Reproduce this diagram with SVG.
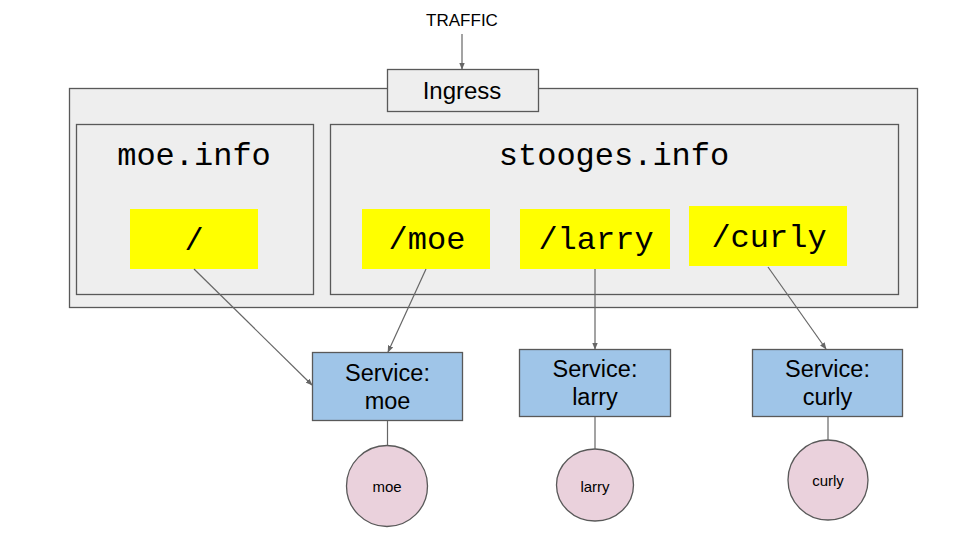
<svg xmlns="http://www.w3.org/2000/svg" width="960" height="540" viewBox="0 0 960 540">
<style>
.box{fill:#eeeeee;stroke:#595959;stroke-width:1.3}
.path{fill:#ffff00;stroke:none}
.svc{fill:#9fc5e8;stroke:#595959;stroke-width:1.3}
.pod{fill:#ead1dc;stroke:#595959;stroke-width:1.3}
.mono{font-family:"Liberation Mono","Courier New",monospace;font-size:32px;fill:#000;text-anchor:middle}
.sans{font-family:"Liberation Sans",Arial,sans-serif;fill:#000;text-anchor:middle}
.conn{stroke:#666666;stroke-width:1.2;fill:none}
</style>
<defs>
<marker id="ah" viewBox="0 0 10 10" refX="9" refY="5" markerWidth="7" markerHeight="7" markerUnits="userSpaceOnUse" orient="auto">
<path d="M0,1 L10,5 L0,9 z" fill="#666666"/>
</marker>
</defs>
<rect width="960" height="540" fill="#ffffff"/>
<g id="cluster">
<rect class="box" x="69.5" y="88.5" width="848" height="219"/>
</g>
<g id="traffic"><text class="sans" x="462" y="26" font-size="17">TRAFFIC</text></g>
<g id="ingress">
<rect class="box" x="387.5" y="69.5" width="151" height="42"/>
<text class="sans" x="462" y="99" font-size="24">Ingress</text>
</g>
<g id="moe-info">
<rect class="box" x="76.5" y="124.5" width="237" height="170"/>
<text class="mono" x="194" y="165">moe.info</text>
</g>
<g id="stooges-info">
<rect class="box" x="330.5" y="124.5" width="568" height="170"/>
<text class="mono" x="614" y="165">stooges.info</text>
</g>
<g id="path-root">
<rect class="path" x="130" y="209" width="128" height="60"/>
<text class="mono" x="194" y="250">/</text>
</g>
<g id="path-moe">
<rect class="path" x="362" y="209" width="128" height="60"/>
<text class="mono" x="427" y="249">/moe</text>
</g>
<g id="path-larry">
<rect class="path" x="520" y="209" width="150" height="60"/>
<text class="mono" x="596" y="249">/larry</text>
</g>
<g id="path-curly">
<rect class="path" x="689" y="206" width="158" height="60"/>
<text class="mono" x="769" y="247">/curly</text>
</g>
<g id="svc-moe">
<rect class="svc" x="312.5" y="352.5" width="150" height="68"/>
<text class="sans" x="387.5" y="381" font-size="23.5">Service:</text>
<text class="sans" x="387.5" y="409" font-size="23.5">moe</text>
</g>
<g id="svc-larry">
<rect class="svc" x="519.5" y="349.5" width="151" height="67"/>
<text class="sans" x="595" y="377" font-size="23.5">Service:</text>
<text class="sans" x="595" y="405" font-size="23.5">larry</text>
</g>
<g id="svc-curly">
<rect class="svc" x="752.5" y="349.5" width="150" height="67"/>
<text class="sans" x="827.5" y="377" font-size="23.5">Service:</text>
<text class="sans" x="827.5" y="405" font-size="23.5">curly</text>
</g>
<g id="pod-moe">
<circle class="pod" cx="387" cy="486" r="40.5"/>
<text class="sans" x="387" y="492" font-size="15">moe</text>
</g>
<g id="pod-larry">
<ellipse class="pod" cx="595" cy="485" rx="38.5" ry="36"/>
<text class="sans" x="595" y="492" font-size="15">larry</text>
</g>
<g id="pod-curly">
<circle class="pod" cx="828" cy="480" r="40"/>
<text class="sans" x="828" y="486" font-size="15">curly</text>
</g>
<g id="connectors">
<line class="conn" x1="462" y1="34" x2="462" y2="69" marker-end="url(#ah)"/>
<line class="conn" x1="194" y1="269" x2="312" y2="385" marker-end="url(#ah)"/>
<line class="conn" x1="426" y1="269" x2="388" y2="352" marker-end="url(#ah)"/>
<line class="conn" x1="595" y1="269" x2="595" y2="349" marker-end="url(#ah)"/>
<line class="conn" x1="768" y1="267" x2="826" y2="349" marker-end="url(#ah)"/>
<line class="conn" x1="387.5" y1="421" x2="387.5" y2="445.5"/>
<line class="conn" x1="595" y1="417" x2="595" y2="449"/>
<line class="conn" x1="828" y1="417" x2="828" y2="440"/>
</g>
</svg>
